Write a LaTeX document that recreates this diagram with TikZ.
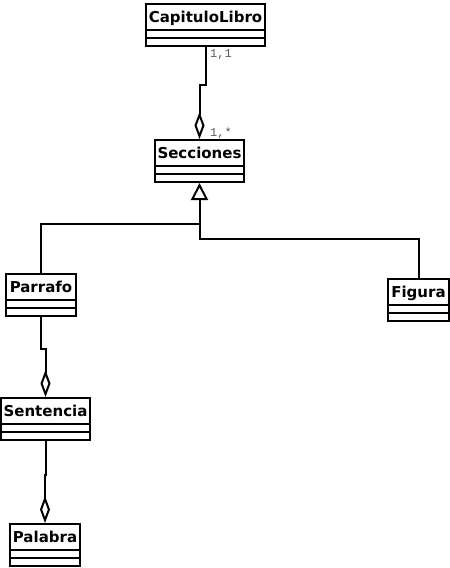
\documentclass[tikz,border=0pt]{standalone}
\usepackage{fontspec}
\setmainfont{DejaVu Sans}
\newfontfamily\monofont{Liberation Mono}
\usepackage{tikz}
\usetikzlibrary{arrows.meta}
\begin{document}
\begin{tikzpicture}[
    x=1pt, y=-1pt,
    klass/.style={draw, line width=2pt, minimum width=#1, text height=16pt, text depth=22pt,
                  inner xsep=3pt, inner ysep=2pt, anchor=north,
                  font=\fontsize{15}{16}\selectfont\bfseries,
                  path picture={
                    \draw[line width=2pt] ([yshift=16pt]path picture bounding box.south west) -- ([yshift=16pt]path picture bounding box.south east);
                    \draw[line width=2pt] ([yshift=8pt]path picture bounding box.south west) -- ([yshift=8pt]path picture bounding box.south east);
                  }},
    mult/.style={font=\monofont\fontsize{12}{13}\selectfont, text=black!65, anchor=base west, inner sep=0pt},
    conn/.style={line width=2pt},
    agg/.style={conn, -{Diamond[open, length=27pt, width=10pt, line width=2pt]}},
    gen/.style={conn, -{Triangle[open, length=17pt, width=17pt, line width=2pt]}}
]
\useasboundingbox (0,0) rectangle (450,568);

\node[klass=119pt] (cap) at (205.5,3) {CapituloLibro};
\node[klass=89pt] (sec) at (199.5,139) {Secciones};
\node[klass=70pt] (par) at (41,273) {Parrafo};
\node[klass=61pt] (fig) at (418.5,278) {Figura};
\node[klass=89pt] (sen) at (45.5,397) {Sentencia};
\node[klass=70pt] (pal) at (45,523) {Palabra};

\coordinate (j1) at (199.5,224);
\coordinate (j2) at (199.5,239);

% composition links
\draw[agg] (cap.south) -- ++(0,38) -| (sec.north);
\node[mult] (m1) at (210,57) {1,1};
\node[mult] (m2) at (210,136) {1,*};
\draw[agg] (par.south) -- ++(0,32) -| (sen.north);
\draw[agg] (sen.south) -- ++(0,34) -| (pal.north);

% inheritance
\draw[gen] (par.north) |- (j1) -- (sec.south);
\draw[conn] (fig.north) |- (j2) -- (j1);
\end{tikzpicture}
\end{document}
